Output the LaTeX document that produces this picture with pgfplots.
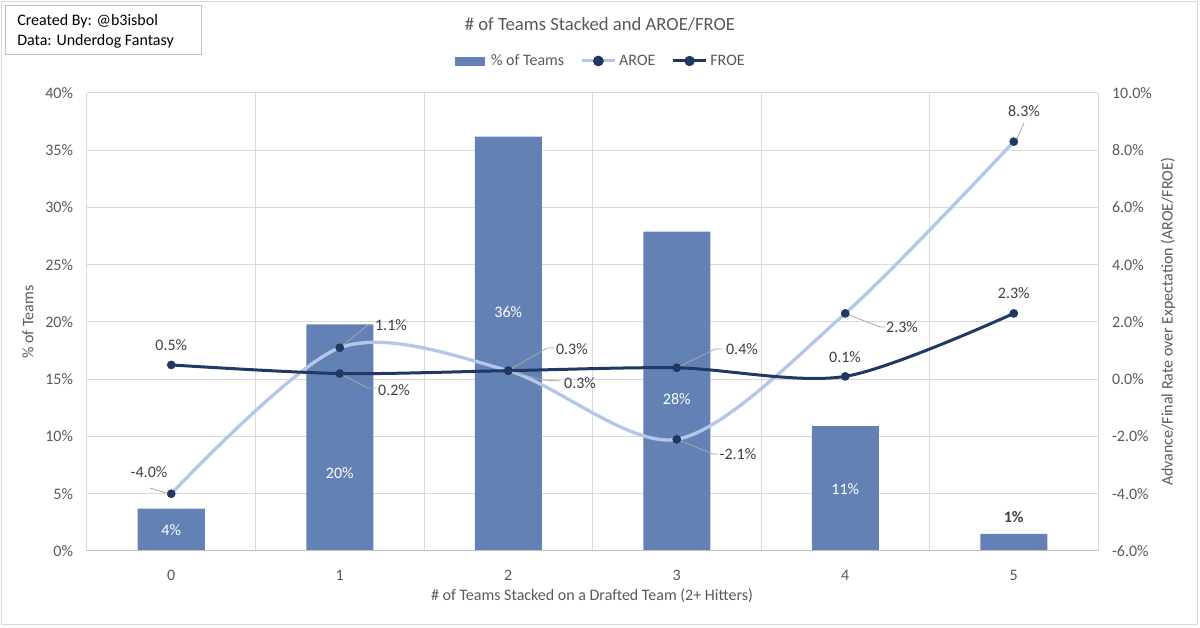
\documentclass[border=0pt]{standalone}
\usepackage{fontspec}
\setmainfont{Carlito}
\usepackage{pgfplots}
\pgfplotsset{compat=1.18}
\definecolor{barblue}{RGB}{100,129,181}
\definecolor{aroec}{RGB}{180,199,231}
\definecolor{froec}{RGB}{32,56,100}
\definecolor{txtgray}{RGB}{89,89,89}
\definecolor{lblgray}{RGB}{64,64,64}
\definecolor{gridgray}{RGB}{217,217,217}
\definecolor{axgray}{RGB}{191,191,191}
\definecolor{leadgray}{RGB}{166,166,166}
\newcommand{\fs}{\fontsize{12}{14}\selectfont}
\begin{document}
\begin{tikzpicture}
\useasboundingbox (-65.25pt,-57.75pt) rectangle (834.75pt,413.25pt);
\draw[gridgray, line width=0.75pt] (-63.75pt,-55.5pt) rectangle (832.5pt,411.75pt);
% created box
\draw[axgray, line width=0.75pt] (-60.75pt,372pt) rectangle (85.5pt,408.75pt);
\node[anchor=west, align=left, font=\fontsize{12}{15}\selectfont, inner sep=0pt, text=black] at (-52.5pt,390pt) {Created By: @b3isbol\\Data: Underdog Fantasy};
% title
\node[font=\fontsize{14}{16}\selectfont, text=txtgray] at (384.75pt,395.25pt) {\# of Teams Stacked and AROE/FROE};
% axis labels
\node[rotate=90, font=\fs, text=txtgray] at (-44.25pt,171.75pt) {\% of Teams};
\node[rotate=90, font=\fs, text=txtgray] at (810.75pt,171.75pt) {Advance/Final Rate over Expectation (AROE/FROE)};
\node[font=\fs, text=txtgray] at (378.75pt,-33.75pt) {\# of Teams Stacked on a Drafted Team (2+ Hitters)};

\begin{axis}[
  at={(0pt,0pt)}, anchor=south west, scale only axis,
  width=758.25pt, height=343.5pt,
  xmin=-0.5, xmax=5.5, ymin=0, ymax=40,
  xtick={0,1,2,3,4,5}, minor xtick={-0.5,0.5,1.5,2.5,3.5,4.5,5.5},
  ytick={0,5,10,15,20,25,30,35,40},
  xminorgrids=true, ymajorgrids=true,
  grid style={gridgray, line width=0.75pt},
  minor grid style={gridgray, line width=0.75pt},
  axis line style={draw=none},
  tick style={draw=none},
  major tick length=0pt, minor tick length=0pt,
  yticklabel={\pgfmathprintnumber[assume math mode=true]{\tick}\%},
  xticklabel={\pgfmathprintnumber[assume math mode=true]{\tick}},
  tick label style={font=\fs, text=txtgray},
  yticklabel style={xshift=-7pt},
  xticklabel style={yshift=-11pt},
  clip=false,
]
\addplot[ybar, bar width=50.25pt, fill=barblue, draw=none] coordinates {(0,3.7) (1,19.8) (2,36.2) (3,27.9) (4,10.9) (5,1.5)};
\draw[axgray, line width=0.75pt] (axis cs:-0.5,0) -- (axis cs:5.5,0);
\node[font=\fs, text=white] at (axis cs:0,1.83) {4\%};
\node[font=\fs, text=white] at (axis cs:1,6.81) {20\%};
\node[font=\fs, text=white] at (axis cs:2,20.87) {36\%};
\node[font=\fs, text=white] at (axis cs:3,13.28) {28\%};
\node[font=\fs, text=white] at (axis cs:4,5.41) {11\%};
\node[font=\fs\bfseries, text=lblgray] at (axis cs:5,2.97) {1\%};
\end{axis}

\begin{axis}[
  at={(0pt,0pt)}, anchor=south west, scale only axis,
  width=758.25pt, height=343.5pt,
  xmin=-0.5, xmax=5.5, ymin=-6, ymax=10,
  xtick=\empty, ytick={-6,-4,-2,0,2,4,6,8,10},
  axis line style={draw=none}, tick style={draw=none}, major tick length=0pt,
  yticklabel pos=right,
  yticklabel={\pgfmathprintnumber[fixed,fixed zerofill,precision=1,assume math mode=true]{\tick}\%},
  tick label style={font=\fs, text=txtgray},
  yticklabel style={xshift=7pt},
  clip=false,
  legend columns=3,
  legend style={at={(axis description cs:0.5084,1.0699)}, anchor=center, draw=none, fill=none,
    font=\fs, text=txtgray, /tikz/every even column/.append style={column sep=10pt}},
]
\addlegendimage{legend image code/.code={\fill[barblue] (0pt,-3pt) rectangle (22pt,3pt); \path (25pt,0pt);}}
\addlegendentry{\% of Teams}
\addplot[aroec, line width=2.5pt, smooth, tension=0.5, mark=*, mark size=3pt,
  mark options={draw=froec, fill=froec, line width=0.5pt},
  legend image code/.code={\draw[aroec, line width=2.25pt] (0pt,0pt) -- (25pt,0pt); \fill[froec] (12.5pt,0pt) circle (2.7pt);}]
  coordinates {(0,-4.0) (1,1.1) (2,0.3) (3,-2.1) (4,2.3) (5,8.3)};
\addlegendentry{AROE}
\addplot[froec, line width=2.25pt, smooth, tension=0.5, mark=*, mark size=3pt,
  mark options={draw=froec, fill=froec, line width=0.5pt},
  legend image code/.code={\draw[froec, line width=2.25pt] (0pt,0pt) -- (25pt,0pt); \fill[froec] (12.5pt,0pt) circle (2.7pt);}]
  coordinates {(0,0.5) (1,0.2) (2,0.3) (3,0.4) (4,0.1) (5,2.3)};
\addlegendentry{FROE}
% leader lines
\draw[leadgray, line width=0.6pt] (axis cs:-0.126,-3.80) -- (axis cs:-0.031,-3.97);
\draw[leadgray, line width=0.6pt] (axis cs:1,1.1) -- (axis cs:1.168,1.895) -- (axis cs:1.197,1.895);
\draw[leadgray, line width=0.6pt] (axis cs:1,0.2) -- (axis cs:1.168,-0.306) -- (axis cs:1.215,-0.306);
\draw[leadgray, line width=0.6pt] (axis cs:2,0.3) -- (axis cs:2.230,1.092) -- (axis cs:2.272,1.092);
\draw[leadgray, line width=0.6pt] (axis cs:2,0.3) -- (axis cs:2.206,-0.026) -- (axis cs:2.307,-0.061);
\draw[leadgray, line width=0.6pt] (axis cs:3,0.4) -- (axis cs:3.227,1.057) -- (axis cs:3.269,1.057);
\draw[leadgray, line width=0.6pt] (axis cs:3,-2.1) -- (axis cs:3.215,-2.611) -- (axis cs:3.245,-2.611);
\draw[leadgray, line width=0.6pt] (axis cs:4,2.3) -- (axis cs:4.206,1.825) -- (axis cs:4.236,1.825);
\draw[leadgray, line width=0.6pt] (axis cs:5.061,8.952) -- (axis cs:5.019,8.393);
% data labels
\node[font=\fs, text=lblgray] at (axis cs:-0.132,-3.24) {-4.0\%};
\node[font=\fs, text=lblgray] at (axis cs:0,1.197) {0.5\%};
\node[font=\fs, text=lblgray] at (axis cs:1.304,1.895) {1.1\%};
\node[font=\fs, text=lblgray] at (axis cs:1.322,-0.376) {0.2\%};
\node[font=\fs, text=lblgray] at (axis cs:2.378,1.057) {0.3\%};
\node[font=\fs, text=lblgray] at (axis cs:2.426,-0.131) {0.3\%};
\node[font=\fs, text=lblgray] at (axis cs:3.387,1.057) {0.4\%};
\node[font=\fs, text=lblgray] at (axis cs:3.363,-2.611) {-2.1\%};
\node[font=\fs, text=lblgray] at (axis cs:4.337,1.825) {2.3\%};
\node[font=\fs, text=lblgray] at (axis cs:3.999,0.777) {0.1\%};
\node[font=\fs, text=lblgray] at (axis cs:5.061,9.371) {8.3\%};
\node[font=\fs, text=lblgray] at (axis cs:5,3.013) {2.3\%};
\end{axis}
\end{tikzpicture}
\end{document}
